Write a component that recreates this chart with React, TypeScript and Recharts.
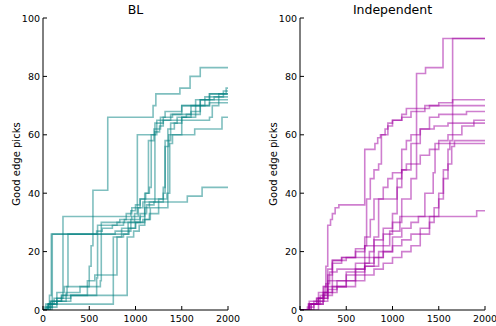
import React from 'react';
import { LineChart, Line, XAxis, YAxis } from 'recharts';

// step series, [x, y] pairs (stepAfter)
const blSeries: number[][][] = [
  [[0,0],[50,1],[150,3],[300,5],[480,8],[500,15],[520,22],[540,41],[700,66],[1190,70],[1220,74],[1480,76],[1590,80],[1700,83],[2000,83]],
  [[0,0],[80,3],[100,26],[900,26],[920,28],[1000,30],[1100,35],[1150,37],[1560,39],[1720,42],[2000,42]],
  [[0,0],[30,2],[70,5],[90,26],[600,26],[780,27],[850,28],[920,30],[990,33],[1020,60],[1210,61],[1260,63],[1300,65],[1380,67],[1600,70],[1700,72],[1850,73],[1950,75],[2000,75]],
  [[0,0],[60,2],[120,4],[216,32],[820,32],[900,33],[960,35],[1050,38],[1100,40],[1150,42],[1170,60],[1230,65],[1300,66],[1400,67],[1500,70],[1650,72],[1800,74],[2000,74]],
  [[0,0],[40,1],[100,3],[200,5],[260,8],[270,26],[580,27],[640,28],[750,29],[870,30],[950,31],[1050,33],[1120,36],[1200,37],[1210,64],[1300,65],[1800,66],[1830,70],[1900,72],[2000,72]],
  [[0,0],[20,1],[60,2],[150,4],[300,5],[580,11],[590,29],[700,29],[800,30],[880,31],[960,32],[1030,35],[1080,37],[1300,40],[1320,56],[1360,60],[1640,62],[1935,66],[2000,66]],
  [[0,0],[50,2],[100,3],[250,6],[400,8],[620,10],[630,30],[760,30],[830,31],[900,32],[950,34],[1000,36],[1050,38],[1340,40],[1350,62],[1420,64],[1500,66],[1600,68],[1700,70],[1800,72],[1900,73],[2000,73]],
  [[0,0],[100,2],[757,2],[760,25],[870,26],[930,28],[1000,30],[1080,31],[1150,33],[1250,35],[1350,40],[1370,57],[1400,60],[1500,66],[1650,70],[1750,73],[1900,74],[1980,76],[2000,76]],
  [[0,0],[80,3],[200,5],[908,5],[910,25],[980,27],[1040,29],[1100,31],[1160,35],[1250,38],[1300,42],[1320,58],[1380,64],[1450,66],[1550,67],[1700,70],[1800,71],[2000,71]],
  [[0,0],[60,2],[150,6],[230,8],[480,10],[560,12],[797,12],[800,25],[850,27],[950,30],[1050,32],[1100,38],[1110,40],[1140,58],[1200,62],[1270,66],[1320,68],[1500,70],[1700,72],[1800,74],[2000,74]],
];

const indSeries: number[][][] = [
  [[0,0],[100,2],[180,4],[250,8],[280,15],[300,29],[330,31],[350,33],[380,35],[420,36],[690,36],[700,55],[810,57],[840,59],[870,60],[950,63],[1000,65],[1100,67],[1150,69],[1400,70],[1500,71],[1650,72],[2000,72]],
  [[0,0],[80,1],[150,3],[260,6],[300,10],[350,16],[450,18],[600,20],[700,22],[800,24],[900,26],[1000,30],[1100,38],[1200,45],[1260,81],[1357,83],[1546,93],[2000,93]],
  [[0,0],[100,2],[200,4],[300,7],[400,8],[500,10],[600,12],[700,15],[800,18],[900,20],[1000,22],[1100,24],[1200,26],[1300,28],[1400,32],[1500,38],[1550,48],[1600,55],[1620,58],[1650,93],[2000,93]],
  [[0,0],[150,2],[250,5],[350,8],[500,8],[600,10],[700,12],[800,14],[900,16],[1000,18],[1100,20],[1200,22],[1300,26],[1400,30],[1450,35],[1500,40],[1550,45],[1600,50],[1640,56],[1670,58],[2000,58]],
  [[0,0],[120,2],[250,6],[350,10],[500,13],[600,14],[700,15],[850,20],[1000,25],[1100,28],[1200,30],[1280,32],[1350,40],[1440,47],[1460,57],[2000,57]],
  [[0,0],[100,2],[200,4],[300,8],[400,10],[500,12],[600,14],[700,16],[800,18],[900,22],[970,27],[1080,32],[1910,34],[2000,34]],
  [[0,0],[90,2],[180,4],[260,8],[300,14],[350,17],[450,18],[650,18],[700,22],[720,38],[760,45],[800,48],[850,50],[880,60],[920,62],[950,64],[1000,65],[1100,66],[1200,68],[1350,70],[2000,70]],
  [[0,0],[120,2],[220,5],[280,9],[320,13],[400,14],[600,16],[750,20],[800,25],[850,38],[900,42],[950,45],[1000,47],[1100,48],[1150,50],[1200,57],[1300,62],[1400,66],[1500,67],[1800,68],[2000,68]],
  [[0,0],[200,3],[300,6],[400,8],[500,10],[600,13],[700,18],[800,22],[900,28],[1000,33],[1050,45],[1100,48],[1200,50],[1300,53],[1400,55],[1500,58],[1600,60],[1750,63],[1880,65],[2000,65]],
  [[0,0],[100,3],[200,6],[300,12],[350,17],[500,18],[600,21],[700,25],[760,31],[800,38],[1000,38],[1050,42],[1100,55],[1150,58],[1200,60],[1300,62],[1450,63],[1600,64],[2000,64]],
];

const xTicks = [0, 500, 1000, 1500, 2000];
const yTicks = [0, 20, 40, 60, 80, 100];

const FONT = '"DejaVu Sans", sans-serif';
const PLOT_LEFT = 43;
const PLOT_RIGHT = 228;
const PLOT_TOP = 18;
const PLOT_BOTTOM = 310;

const BottomTick = (props: any) => {
  const { x, payload } = props;
  return (
    <g>
      <line x1={x} x2={x} y1={PLOT_BOTTOM} y2={PLOT_BOTTOM - 4} stroke="#000" />
      <text x={x} y={PLOT_BOTTOM + 12} textAnchor="middle" fontSize={9.5} fontFamily={FONT} fill="#000">{payload.value}</text>
    </g>
  );
};
const TopTick = (props: any) => {
  const { x } = props;
  return <line x1={x} x2={x} y1={PLOT_TOP} y2={PLOT_TOP + 4} stroke="#000" />;
};
const LeftTick = (props: any) => {
  const { y, payload } = props;
  return (
    <g>
      <line x1={PLOT_LEFT} x2={PLOT_LEFT + 4} y1={y} y2={y} stroke="#000" />
      <text x={PLOT_LEFT - 3} y={y + 3.5} textAnchor="end" fontSize={9.5} fontFamily={FONT} fill="#000">{payload.value}</text>
    </g>
  );
};
const RightTick = (props: any) => {
  const { y } = props;
  return <line x1={PLOT_RIGHT} x2={PLOT_RIGHT - 4} y1={y} y2={y} stroke="#000" />;
};

const Panel = ({ title, series, color, left }: { title: string; series: number[][][]; color: string; left: number }) => (
  <div style={{ position: 'absolute', left, top: 0, width: 248, height: 326 }}>
    <LineChart width={248} height={326} margin={{ top: PLOT_TOP, right: 248 - PLOT_RIGHT, bottom: 0, left: 0 }}>
      <XAxis xAxisId="b" type="number" dataKey="x" domain={[0, 2000]} ticks={xTicks} height={326 - PLOT_BOTTOM}
        axisLine={{ stroke: '#000' }} tickLine={false} tick={<BottomTick />} interval={0} allowDataOverflow />
      <XAxis xAxisId="t" orientation="top" type="number" dataKey="x" domain={[0, 2000]} ticks={xTicks} height={0}
        axisLine={{ stroke: '#000' }} tickLine={false} tick={<TopTick />} interval={0} allowDataOverflow />
      <YAxis yAxisId="l" type="number" domain={[0, 100]} ticks={yTicks} width={PLOT_LEFT}
        axisLine={{ stroke: '#000' }} tickLine={false} tick={<LeftTick />} interval={0} allowDataOverflow />
      <YAxis yAxisId="r" orientation="right" type="number" domain={[0, 100]} ticks={yTicks} width={0}
        axisLine={{ stroke: '#000' }} tickLine={false} tick={<RightTick />} interval={0} allowDataOverflow />
      {series.map((s, i) => (
        <Line key={i} xAxisId="b" yAxisId="l" data={s.map(([x, y]) => ({ x, y }))} dataKey="y" type="stepAfter"
          stroke={color} strokeOpacity={0.5} strokeWidth={1.6} dot={false} activeDot={false} isAnimationActive={false} />
      ))}
    </LineChart>
    <div style={{ position: 'absolute', left: PLOT_LEFT, width: PLOT_RIGHT - PLOT_LEFT, top: 2, textAlign: 'center', fontFamily: FONT, fontSize: 12.5 }}>{title}</div>
    <div style={{ position: 'absolute', left: 16, top: 164, fontFamily: FONT, fontSize: 10, whiteSpace: 'nowrap', transform: 'translate(-50%, -50%) rotate(-90deg)' }}>Good edge picks</div>
  </div>
);

export default function App() {
  return (
    <div style={{ position: 'fixed', left: 0, top: 0, width: 496, height: 326, background: '#fff', overflow: 'hidden' }}>
      <Panel title="BL" series={blSeries} color="#008080" left={0} />
      <Panel title="Independent" series={indSeries} color="#a000a0" left={257} />
    </div>
  );
}
